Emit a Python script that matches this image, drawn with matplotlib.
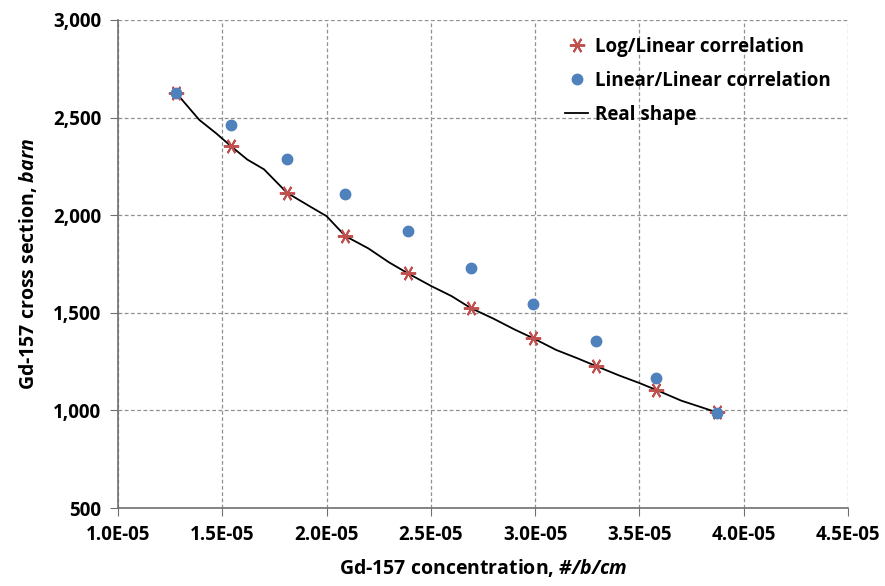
import matplotlib
matplotlib.use("Agg")
import matplotlib.pyplot as plt
from matplotlib.ticker import FuncFormatter, MultipleLocator

FONT = "Open Sans"
plt.rcParams['font.family'] = [FONT, 'DejaVu Sans']
plt.rcParams['font.weight'] = 'bold'
plt.rcParams['mathtext.fontset'] = 'custom'
plt.rcParams['mathtext.bfit'] = f'{FONT}:bold:italic'
plt.rcParams['mathtext.bf'] = f'{FONT}:bold'
plt.rcParams['mathtext.it'] = f'{FONT}:bold:italic'
plt.rcParams['mathtext.rm'] = f'{FONT}:bold'

# Data (x in #/b/cm)
conc = [1.28e-5, 1.54e-5, 1.81e-5, 2.09e-5, 2.39e-5, 2.69e-5, 2.99e-5, 3.29e-5, 3.58e-5, 3.87e-5]
log_linear = [2625, 2355, 2115, 1893, 1702, 1525, 1370, 1228, 1105, 990]
lin_linear = [2625, 2462, 2288, 2108, 1920, 1730, 1543, 1356, 1166, 988]

real_x = [1.28e-5, 1.39e-5, 1.47e-5, 1.54e-5, 1.62e-5, 1.70e-5, 1.81e-5, 1.92e-5, 2.00e-5,
          2.09e-5, 2.20e-5, 2.30e-5, 2.39e-5, 2.50e-5, 2.60e-5, 2.69e-5, 2.80e-5, 2.90e-5,
          2.99e-5, 3.10e-5, 3.20e-5, 3.29e-5, 3.40e-5, 3.50e-5, 3.58e-5, 3.70e-5, 3.80e-5, 3.87e-5]
real_y = [2625, 2488, 2420, 2355, 2285, 2235, 2115, 2045, 1995, 1893, 1830, 1758, 1702, 1638,
          1585, 1525, 1470, 1415, 1370, 1310, 1268, 1228, 1180, 1140, 1105, 1050, 1015, 990]

red = '#C0504D'
blue = '#4F81BD'

fig = plt.figure(figsize=(8.85, 5.86), dpi=100)
ax = fig.add_axes([0.1333, 0.1331, 0.825, 0.8328])

ax.plot(conc, log_linear, linestyle='none', marker=(6, 2, 90), markersize=11,
        markeredgewidth=1.4, color=red, label='Log/Linear correlation', zorder=3)
ax.plot(conc, lin_linear, linestyle='none', marker='o', markersize=7.5,
        color=blue, label='Linear/Linear correlation', zorder=4)
ax.plot(real_x, real_y, color='black', linewidth=1.3, label='Real shape', zorder=2)

ax.set_xlim(1.0e-5, 4.5e-5)
ax.set_ylim(500, 3000)
ax.xaxis.set_major_locator(MultipleLocator(0.5e-5))
ax.yaxis.set_major_locator(MultipleLocator(500))
ax.xaxis.set_major_formatter(FuncFormatter(lambda v, p: f"{v:.1E}"))
ax.yaxis.set_major_formatter(FuncFormatter(lambda v, p: f"{int(round(v)):,}"))

ax.grid(True, linestyle=(0, (3, 2)), color='#909090', linewidth=0.9)
ax.set_axisbelow(True)
for s in ['top', 'right']:
    ax.spines[s].set_visible(False)
for s in ['left', 'bottom']:
    ax.spines[s].set_color('#6f6f6f')
    ax.spines[s].set_linewidth(1.2)

ax.tick_params(axis='both', direction='out', length=6, color='#6f6f6f', labelsize=13.5, pad=6)

ax.set_xlabel(r'Gd-157 concentration, $\mathbfit{\#/b/cm}$', fontsize=14, fontweight='bold', labelpad=9)
ax.set_ylabel(r'Gd-157 cross section, $\mathbfit{barn}$', fontsize=14, fontweight='bold', labelpad=10)

leg = ax.legend(loc='upper right', bbox_to_anchor=(1.0, 1.0), frameon=False,
                prop={'weight': 'bold', 'size': 13.5}, handlelength=1.2, handletextpad=0.4,
                labelspacing=0.75)

fig.savefig('out.png', dpi=100)
